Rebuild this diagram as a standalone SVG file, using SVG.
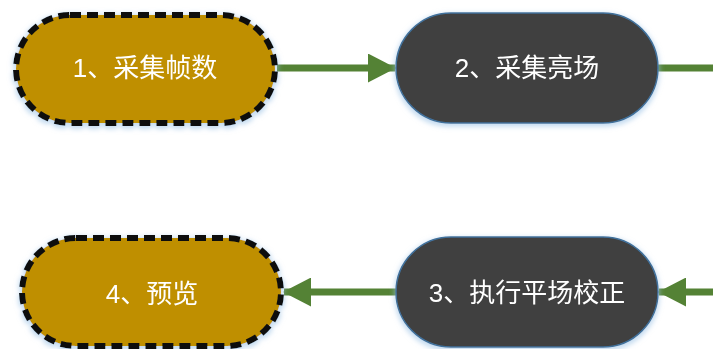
<svg xmlns="http://www.w3.org/2000/svg" width="713" height="349" viewBox="0 0 713 349">
<defs>
<filter id="glow" x="-20%" y="-30%" width="140%" height="160%">
<feMorphology in="SourceAlpha" operator="dilate" radius="1" result="d"/>
<feOffset in="d" dx="0" dy="2" result="o"/>
<feGaussianBlur in="o" stdDeviation="2.5" result="b"/>
<feFlood flood-color="#9DC3E6" flood-opacity="0.6"/>
<feComposite in2="b" operator="in" result="s"/>
<feMerge><feMergeNode in="s"/><feMergeNode in="SourceGraphic"/></feMerge>
</filter>
<marker id="arr" markerWidth="28" markerHeight="29" viewBox="0 0 28 29" refX="27" refY="14.5" orient="auto" markerUnits="userSpaceOnUse">
<path d="M0,0 L28,14.5 L0,29 Z" fill="#548235"/>
</marker>
</defs>
<style>
.gold{fill:#BF8F00;stroke:#111;stroke-width:6;stroke-dasharray:11 6;}
.dark{fill:#3F3F3F;stroke:#41719C;stroke-width:1.5;}
.t{fill:#fff;font-family:"Liberation Sans","Noto Sans CJK SC",sans-serif;font-size:26px;text-anchor:middle;dominant-baseline:central;}
.c{stroke:#548235;stroke-width:7;fill:none;}
</style>
<g id="connectors">
<line class="c" x1="277" y1="68" x2="395" y2="68" marker-end="url(#arr)"/>
<line class="c" x1="658" y1="68" x2="713" y2="68"/>
<line class="c" x1="713" y1="292" x2="659" y2="292" marker-end="url(#arr)"/>
<line class="c" x1="396" y1="292" x2="284" y2="292" marker-end="url(#arr)"/>
</g>
<g id="node1" filter="url(#glow)">
<rect class="gold" x="16" y="15" width="259" height="108" rx="54"/>
<text class="t" x="145" y="68">1、采集帧数</text>
</g>
<g id="node2" filter="url(#glow)">
<rect class="dark" x="396" y="13" width="262" height="110" rx="55"/>
<text class="t" x="527" y="68">2、采集亮场</text>
</g>
<g id="node3" filter="url(#glow)">
<rect class="dark" x="396" y="237" width="262" height="110" rx="55"/>
<text class="t" x="527" y="293">3、执行平场校正</text>
</g>
<g id="node4" filter="url(#glow)">
<rect class="gold" x="22" y="238" width="259" height="108" rx="54"/>
<text class="t" x="152" y="294">4、预览</text>
</g>
</svg>
